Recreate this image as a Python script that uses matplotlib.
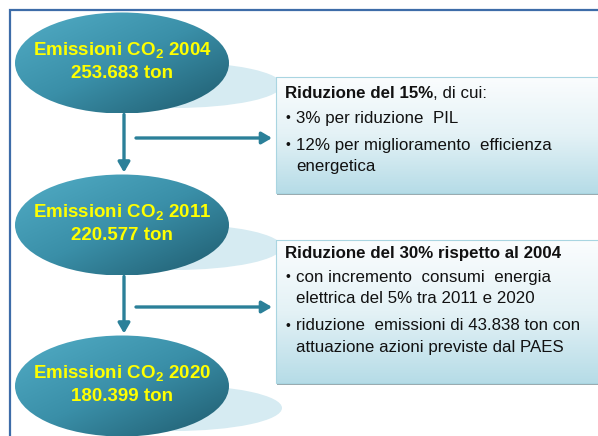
import numpy as np
import matplotlib
matplotlib.use('Agg')
import matplotlib.pyplot as plt
from matplotlib.patches import Ellipse, Rectangle, FancyArrowPatch
from matplotlib.colors import LinearSegmentedColormap

plt.rcParams['font.family'] = ['Liberation Sans', 'DejaVu Sans']
plt.rcParams['mathtext.fontset'] = 'custom'
plt.rcParams['mathtext.rm'] = 'Liberation Sans'
plt.rcParams['mathtext.bf'] = 'Liberation Sans:bold'

# dati del diagramma
anni = ['2004', '2011', '2020']
emissioni = ['253.683', '220.577', '180.399']
titoli_box = ['Riduzione del 15%', 'Riduzione del 30% rispetto al 2004']
code_titoli = [', di cui:', '']
punti_box = [
    [['3% per riduzione  PIL'],
     ['12% per miglioramento  efficienza', 'energetica']],
    [['con incremento  consumi  energia', 'elettrica del 5% tra 2011 e 2020'],
     ['riduzione  emissioni di 43.838 ton con', 'attuazione azioni previste dal PAES']],
]

# layout (pixel)
W, H = 598, 436
ell_cx, ell_w, ell_h = 122, 214, 101
ell_cy = [63, 225, 386]
box_y = [(77, 193), (240, 383)]
off_titolo = [17, 13]
box_x0 = 276

teal = '#2b8099'
cmap_ell = LinearSegmentedColormap.from_list('ell', ['#52adc6', '#3a8fa8', '#1f5b6e'])
cmap_box = LinearSegmentedColormap.from_list('box', ['#fbfdfe', '#e4f2f6', '#b6dce7'])

fig = plt.figure(figsize=(W / 100, H / 100), dpi=100)
ax = fig.add_axes([0, 0, 1, 1])
ax.set_xlim(0, W)
ax.set_ylim(H, 0)
ax.axis('off')

# cornice
ax.add_patch(Rectangle((10, 10), W + 20, H + 20, facecolor='white',
                       edgecolor='#3d6ca8', lw=1.6, zorder=0))


def gradiente(x0, x1, y0, y1, cmap, diag, clip, z):
    xs = np.linspace(0, 1, 200)
    ys = np.linspace(0, 1, 200)
    gx, gy = np.meshgrid(xs, ys)
    g = (gx * 0.5 + gy * 0.5) if diag else gy
    im = ax.imshow(g, cmap=cmap, extent=(x0, x1, y0, y1), origin='lower',
                   aspect='auto', zorder=z, interpolation='bilinear')
    im.set_clip_path(clip)


# ellissi con ombra
for i, cy in enumerate(ell_cy):
    ombra = Ellipse((ell_cx + 52, cy + 22), 216, 46, facecolor='#d6ebf2',
                    edgecolor='none', zorder=1)
    ax.add_patch(ombra)
    ell = Ellipse((ell_cx, cy), ell_w, ell_h, facecolor='none',
                  edgecolor='none', zorder=2)
    ax.add_patch(ell)
    gradiente(ell_cx - ell_w / 2, ell_cx + ell_w / 2, cy - ell_h / 2,
              cy + ell_h / 2, cmap_ell, True, ell, 2)
    ax.text(ell_cx, cy - 12, 'Emissioni CO$_{\\mathbf{2}}$ ' + anni[i],
            ha='center', va='center', color='#ffff00', fontsize=13.5,
            fontweight='bold', zorder=3)
    ax.text(ell_cx, cy + 10, emissioni[i] + ' ton', ha='center', va='center',
            color='#ffff00', fontsize=13.5, fontweight='bold', zorder=3)

# frecce
for i in range(2):
    y_top = ell_cy[i] + ell_h / 2 + 1
    y_bot = ell_cy[i + 1] - ell_h / 2 - 2
    ax.add_patch(FancyArrowPatch((124, y_top), (124, y_bot),
                                 arrowstyle='-|>,head_length=6,head_width=3.5',
                                 color=teal, lw=2.4, zorder=4,
                                 shrinkA=0, shrinkB=0))
    y_h = [138, 307][i]
    ax.add_patch(FancyArrowPatch((136, y_h), (272, y_h),
                                 arrowstyle='-|>,head_length=6,head_width=3.5',
                                 color=teal, lw=2.4, zorder=4,
                                 shrinkA=0, shrinkB=0))

# riquadri
for i, (y0, y1) in enumerate(box_y):
    ax.add_patch(Rectangle((box_x0 + 1, y0 + 2), W, y1 - y0, facecolor='#9aa9ae',
                           edgecolor='none', zorder=4))
    rect = Rectangle((box_x0, y0), W, y1 - y0, facecolor='none',
                     edgecolor='#a9d5e1', lw=0.8, zorder=6)
    ax.add_patch(rect)
    gradiente(box_x0, W + 5, y0, y1, cmap_box, False, rect, 5)

    y = y0 + off_titolo[i]
    t = ax.text(285, y, titoli_box[i], ha='left', va='center',
                fontsize=12.2, fontweight='bold', color='#111111', zorder=7)
    if code_titoli[i]:
        ax.annotate(code_titoli[i], xy=(1, 0), xycoords=t, ha='left',
                    va='bottom', fontsize=12.2, color='#111111', zorder=7)
    y += 24
    for righe in punti_box[i]:
        ax.text(285, y, '•', ha='left', va='center', fontsize=10,
                color='#111111', zorder=7)
        for r in righe:
            ax.text(296, y, r, ha='left', va='center', fontsize=12.2,
                    color='#111111', zorder=7)
            y += 21.5
        y += 5.5

fig.savefig('out.png', dpi=100)
